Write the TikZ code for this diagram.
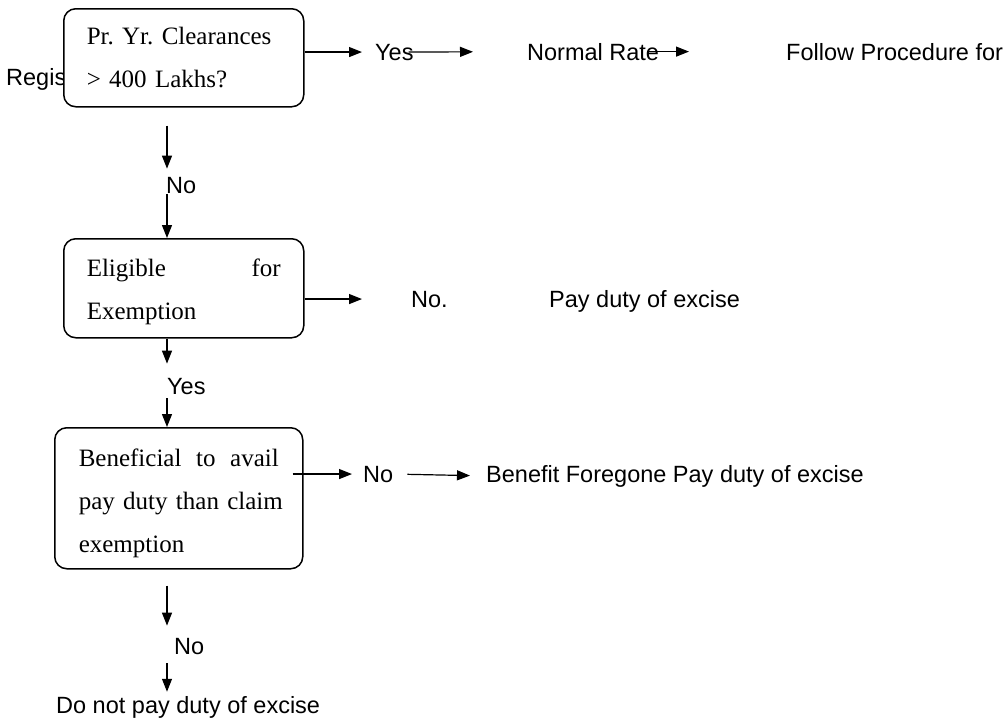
\documentclass[tikz,border=0pt]{standalone}
\usepackage{fontspec}
\setmainfont{Liberation Serif}
\setsansfont{Liberation Sans}
\usetikzlibrary{arrows.meta}
\tikzset{
  qbox/.style={draw, line width=1.5pt, rounded corners=12pt, fill=white,
    align=left, anchor=north west, inner ysep=0pt,
    font=\fontsize{25}{43}\selectfont\frenchspacing},
  lbl/.style={inner sep=0pt, anchor=base west,
    font=\sffamily\fontsize{23.5}{28}\selectfont},
  arr/.style={-{Triangle[length=13pt,width=10pt]}, line width=1.2pt},
}

\begin{document}
\begin{tikzpicture}[x=1pt,y=-1pt]
  \useasboundingbox (0,0) rectangle (1007,723);
  \coordinate (spine) at (167,0);

  \node[lbl] (regis) at (6,85) {Regis};
  \node[qbox, text width=194pt, inner xsep=23pt, minimum height=98pt] (q1) at (63,8)
    {Pr. Yr. Clearances\\> 400 Lakhs?};
  \node[qbox, text width=194pt, inner xsep=23pt, minimum height=99pt] (q2) at (63,238)
    {\rule{0pt}{25pt}Eligible\hfill for\\Exemption};
  \node[qbox, text width=200pt, inner xsep=24pt, minimum height=141pt] (q3) at (54,427)
    {\rule{0pt}{28pt}Beneficial\hfill to\hfill avail\\pay~duty~than~claim\\exemption};

  \node[lbl] (yes1) at (375,60) {Yes};
  \node[lbl] (normal) at (527,60) {Normal Rate};
  \node[lbl] (follow) at (786,60) {Follow Procedure for};
  \node[lbl] (no1) at (166,193) {No};
  \node[lbl] (no2) at (411,307) {No.};
  \node[lbl] (pay) at (549,307) {Pay duty of excise};
  \node[lbl] (yes2) at (167,394) {Yes};
  \node[lbl] (no3) at (363,482) {No};
  \node[lbl] (forgone) at (486,482) {Benefit Foregone Pay duty of excise};
  \node[lbl] (no4) at (174,654) {No};
  \node[lbl] (donot) at (56,713) {Do not pay duty of excise};

  \draw[arr, shorten >=13pt] (q1.east |- yes1.west) -- (yes1.west);
  \draw[arr, shorten <=-5pt, shorten >=54pt] (yes1.east) -- (normal.west);
  \draw[arr, shorten <=-12pt, shorten >=97pt] (normal.east) -- (follow.west);

  \draw[arr, shorten <=18pt, shorten >=8pt] (spine |- q1.south) -- (spine |- no1.north);
  \draw[arr, shorten <=1pt] (spine |- no1.south) -- (spine |- q2.north);

  \draw[arr, shorten >=49pt] (q2.east |- no2.west) -- (no2.west);
  \draw[arr, shorten >=14pt] (spine |- q2.south) -- (spine |- yes2.north);
  \draw[arr, shorten <=4pt] (spine |- yes2.south) -- (spine |- q3.north);

  \draw[arr, shorten <=-11pt, shorten >=11pt] (q3.east |- no3.west) -- (no3.west);
  \draw[arr, shorten <=14pt, shorten >=16pt] (no3.east) -- (forgone.west);
  \draw[arr, shorten <=16pt, shorten >=12pt] (spine |- q3.south) -- (spine |- no4.north);
  \draw[arr, shorten <=9pt, shorten >=4pt] (spine |- no4.south) -- (spine |- donot.north);
\end{tikzpicture}
\end{document}
